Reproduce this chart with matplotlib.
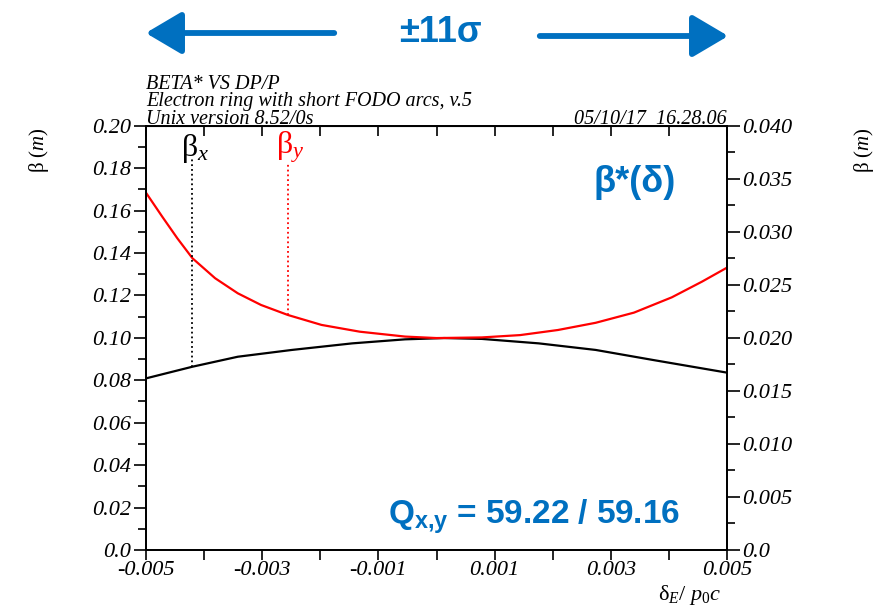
import matplotlib.pyplot as plt
import numpy as np
from matplotlib.patches import FancyArrowPatch
from matplotlib.ticker import FixedLocator, FixedFormatter

plt.rcParams['font.family'] = ['Liberation Serif']
plt.rcParams['font.style'] = 'italic'
plt.rcParams['axes.unicode_minus'] = False
plt.rcParams['mathtext.fontset'] = 'custom'
plt.rcParams['mathtext.bf'] = 'Liberation Sans:style=normal:weight=bold'
plt.rcParams['mathtext.rm'] = 'Liberation Serif:style=normal'
plt.rcParams['mathtext.it'] = 'Liberation Serif:style=italic'

# beta* vs dp/p
dp_y = [-0.005, -0.00472, -0.00446, -0.0042, -0.00381, -0.00342, -0.00302, -0.00256,
        -0.00198, -0.00132, -0.00054, 0.0, 0.00078, 0.00144, 0.00209, 0.00274,
        0.0034, 0.00405, 0.00457, 0.005]
beta_y = [0.1684, 0.1571, 0.1469, 0.1375, 0.1281, 0.1210, 0.1155, 0.1108,
          0.1061, 0.1029, 0.1006, 0.0999, 0.1002, 0.1013, 0.1037, 0.1071,
          0.1119, 0.1191, 0.1265, 0.1331]
dp_x = [-0.005, -0.0042, -0.00342, -0.00249, -0.00145, -0.00054, 0.00013, 0.00078,
        0.00176, 0.00274, 0.00372, 0.005]
beta_x = [0.0809, 0.0864, 0.0911, 0.0943, 0.0974, 0.0993, 0.0999, 0.0995,
          0.0974, 0.0943, 0.0896, 0.0836]

# marker lines for the beta labels: (dp, bottom, top)
mark_x = (-0.0042, 0.0864, 0.185)
mark_y = (-0.00256, 0.1108, 0.183)

xticks = [-0.005, -0.003, -0.001, 0.001, 0.003, 0.005]
xlabels = ['-0.005', '-0.003', '-0.001', '0.001', '0.003', '0.005']
xminor = [-0.004, -0.002, 0.0, 0.002, 0.004]
yticks = [0.0, 0.02, 0.04, 0.06, 0.08, 0.10, 0.12, 0.14, 0.16, 0.18, 0.20]
ylabels = ['0.0', '0.02', '0.04', '0.06', '0.08', '0.10', '0.12', '0.14', '0.16', '0.18', '0.20']
y2ticks = [0.0, 0.005, 0.010, 0.015, 0.020, 0.025, 0.030, 0.035, 0.040]
y2labels = ['0.0', '0.005', '0.010', '0.015', '0.020', '0.025', '0.030', '0.035', '0.040']

blue = '#0070C0'
tfs = 16

fig = plt.figure(figsize=(8.84, 6.06), dpi=100)
ax = fig.add_axes([146/884, 1-550/606, 581/884, 424.3/606])

ax.plot(dp_x, beta_x, color='black', lw=1.6)
ax.plot(dp_y, beta_y, color='#ff0000', lw=1.6)
ax.plot([mark_x[0], mark_x[0]], [mark_x[1], mark_x[2]], color='black', ls=':', lw=1.3)
ax.plot([mark_y[0], mark_y[0]], [mark_y[1], mark_y[2]], color='#ff0000', ls=':', lw=1.3)

ax.text(mark_x[0] + 0.00005, 0.1815, r'$\mathrm{\beta}_{\mathit{x}}$',
        fontsize=23, fontstyle='normal', ha='center', va='bottom', color='black')
ax.text(mark_y[0] + 0.00005, 0.1815, r'$\mathrm{\beta}_{\mathit{y}}$',
        fontsize=23, fontstyle='normal', ha='center', va='bottom', color='#ff0000')

ax.set_xlim(-0.005, 0.005)
ax.set_ylim(0, 0.2)
ax.xaxis.set_major_locator(FixedLocator(xticks))
ax.xaxis.set_major_formatter(FixedFormatter(xlabels))
ax.xaxis.set_minor_locator(FixedLocator(xminor))
ax.yaxis.set_major_locator(FixedLocator(yticks))
ax.yaxis.set_major_formatter(FixedFormatter(ylabels))
ax.yaxis.set_minor_locator(FixedLocator(np.arange(0.01, 0.2, 0.02)))
ax.tick_params(which='both', direction='out', width=1.2, labelsize=tfs)
ax.tick_params(which='major', length=9)
ax.tick_params(which='minor', length=6)
ax.tick_params(axis='x', which='both', length=7, pad=1)
ax.tick_params(axis='y', pad=2)

top = ax.secondary_xaxis('top')
top.xaxis.set_major_locator(FixedLocator(xticks + xminor))
top.tick_params(direction='in', length=7, width=1.2, labeltop=False)

ax2 = ax.twinx()
ax2.set_ylim(0, 0.04)
ax2.yaxis.set_major_locator(FixedLocator(y2ticks))
ax2.yaxis.set_major_formatter(FixedFormatter(y2labels))
ax2.yaxis.set_minor_locator(FixedLocator(np.arange(0.0025, 0.04, 0.005)))
ax2.tick_params(which='both', direction='out', width=1.2, pad=2, labelsize=tfs)
ax2.tick_params(which='major', length=9)
ax2.tick_params(which='minor', length=6)
for a in (ax, ax2):
    for s in a.spines.values():
        s.set_linewidth(1.3)

# header lines
hdr = dict(fontsize=14.5, transform=fig.transFigure)
fig.text(146/884, 1-89/606, 'BETA* VS DP/P', **hdr)
fig.text(146/884, 1-106/606, 'Electron ring with short FODO arcs, v.5', **hdr)
fig.text(146/884, 1-124/606, 'Unix version 8.52/0s', **hdr)
fig.text(727/884, 1-124/606, '05/10/17  16.28.06', ha='right', **hdr)

# axis labels
ylab = r'$\mathrm{\beta}\ \mathit{(m)}$'
fig.text(39/884, 1-150/606, ylab, fontstyle='normal',
         rotation=90, ha='center', va='center', fontsize=15)
fig.text(864/884, 1-150/606, ylab, fontstyle='normal',
         rotation=90, ha='center', va='center', fontsize=15)
fig.text(690/884, 1-595/606, r'$\mathrm{\delta}_{\mathit{E}}/\ \mathit{p}_{\mathit{0}}\mathit{c}$',
         fontstyle='normal', ha='center', va='center', fontsize=16)

# blue annotations
sans = dict(color=blue, fontfamily='Liberation Sans', fontweight='bold', fontstyle='normal')
fig.text(440/884, 1-32/606, '±11σ', fontsize=26, ha='center', va='center', **sans)
arrow = dict(transform=fig.transFigure, arrowstyle='-|>,head_length=2.2,head_width=1.3',
             mutation_scale=10, color=blue, lw=4.2)
fig.add_artist(FancyArrowPatch((337/884, 1-33/606), (143/884, 1-33/606), **arrow))
fig.add_artist(FancyArrowPatch((537/884, 1-36/606), (731/884, 1-36/606), **arrow))
fig.text(635/884, 1-183/606, 'β*(δ)', fontsize=26, ha='center', va='center', **sans)
fig.text(534/884, 1-517/606, r'$\mathbf{Q_{x{,}y}}$ = 59.22 / 59.16', fontsize=24,
         ha='center', va='center', **sans)

fig.savefig('out.png', dpi=100)
